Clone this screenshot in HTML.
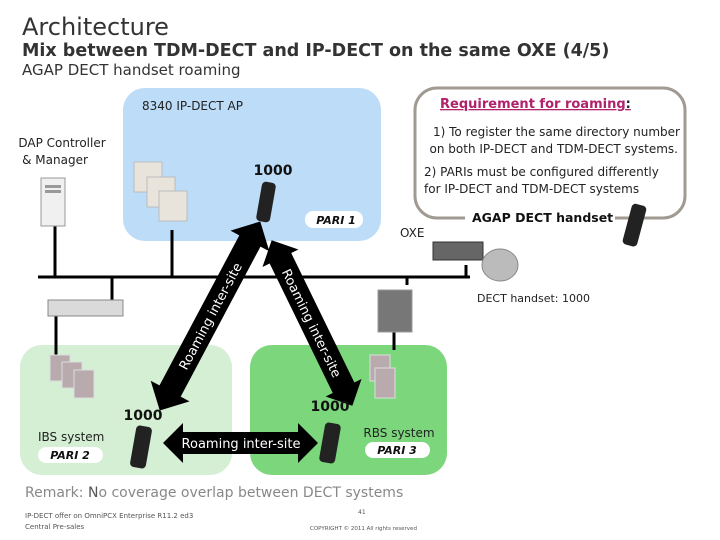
<!DOCTYPE html>
<html><head><meta charset="utf-8"><style>
html,body{margin:0;padding:0;background:#fff;width:720px;height:540px;overflow:hidden}
svg{display:block;font-family:"DejaVu Sans","Liberation Sans",sans-serif}
</style></head><body>
<svg width="720" height="540" viewBox="0 0 720 540">
<text x="22" y="35" font-size="24" fill="#333">Architecture</text>
<text x="22" y="56" font-size="17.5" font-weight="bold" fill="#333">Mix between TDM-DECT and IP-DECT on the same OXE (4/5)</text>
<text x="22" y="75" font-size="15" fill="#333">AGAP DECT handset roaming</text>

<rect x="123" y="88" width="258" height="153" rx="22" fill="#bcdcf8"/>
<rect x="20" y="345" width="212" height="130" rx="22" fill="#d4efd4"/>
<rect x="250" y="345" width="197" height="130" rx="22" fill="#7cd67c"/>
<rect x="415" y="88" width="270" height="130" rx="22" fill="#fff" stroke="#a09a92" stroke-width="3"/>
<rect x="465" y="208" width="150" height="14" fill="#fff"/>

<text x="142" y="110" font-size="12" fill="#222">8340 IP-DECT AP</text>
<text x="440" y="108" font-size="13" font-weight="bold" fill="#b0226b" text-decoration="underline">Requirement for roaming<tspan fill="#222">:</tspan></text>
<text x="680" y="136" font-size="12" fill="#222" text-anchor="end">1) To register the same directory number</text>
<text x="678" y="153" font-size="12" fill="#222" text-anchor="end">on both IP-DECT and TDM-DECT systems.</text>
<text x="424" y="176" font-size="12" fill="#222">2) PARIs must be configured differently</text>
<text x="424" y="193" font-size="12" fill="#222">for IP-DECT and TDM-DECT systems</text>
<text x="472" y="222" font-size="12.5" font-weight="bold" fill="#111">AGAP DECT handset</text>
<text x="62" y="147" font-size="12" fill="#222" text-anchor="middle">DAP Controller</text>
<text x="55" y="164" font-size="12" fill="#222" text-anchor="middle">&amp; Manager</text>
<text x="273" y="175" font-size="14" font-weight="bold" fill="#111" text-anchor="middle">1000</text>
<rect x="305" y="211" width="58" height="17" rx="8" fill="#fff"/>
<text x="336" y="224" font-size="11" font-weight="bold" font-style="italic" fill="#111" text-anchor="middle">PARI 1</text>
<text x="400" y="237" font-size="12" fill="#222">OXE</text>
<text x="477" y="302" font-size="11" fill="#222">DECT handset: 1000</text>

<g stroke="#000" stroke-width="3" fill="none">
<line x1="38" y1="277" x2="470" y2="277"/>
<line x1="55" y1="225" x2="55" y2="277"/>
<line x1="172" y1="230" x2="172" y2="277"/>
<line x1="112" y1="277" x2="112" y2="300"/>
<line x1="56" y1="315" x2="56" y2="360"/>
<line x1="407" y1="277" x2="407" y2="285"/>
<line x1="466" y1="265" x2="466" y2="277"/>
<line x1="394" y1="330" x2="394" y2="350"/>
</g>
<rect x="41" y="178" width="24" height="48" fill="#f0f0f0" stroke="#999"/>
<rect x="45" y="185" width="16" height="3" fill="#999"/><rect x="45" y="190" width="16" height="3" fill="#999"/>
<g fill="#e8e4dc" stroke="#bbb">
<rect x="134" y="162" width="28" height="30"/><rect x="147" y="177" width="28" height="30"/><rect x="159" y="191" width="28" height="30"/>
</g>
<rect x="48" y="300" width="75" height="16" fill="#dadada" stroke="#888"/>
<rect x="433" y="242" width="50" height="18" fill="#666" stroke="#333"/>
<ellipse cx="500" cy="265" rx="18" ry="16" fill="#bbb" stroke="#888"/>
<rect x="378" y="290" width="34" height="42" fill="#777" stroke="#999"/>
<g fill="#b9aaae" stroke="#ddd">
<rect x="50" y="355" width="20" height="26"/><rect x="62" y="362" width="20" height="26"/><rect x="74" y="370" width="20" height="28"/>
<rect x="370" y="355" width="20" height="26"/><rect x="375" y="368" width="20" height="30"/>
</g>
<g fill="#222">
<rect x="259" y="182" width="14" height="40" rx="4" transform="rotate(10 266 202)"/>
<rect x="627" y="204" width="15" height="42" rx="4" transform="rotate(15 634 225)"/>
<rect x="133" y="426" width="16" height="42" rx="4" transform="rotate(10 141 447)"/>
<rect x="322" y="423" width="16" height="40" rx="4" transform="rotate(10 330 443)"/>
</g>

<g transform="translate(210 316) rotate(-62)">
<polygon points="-107,0 -85,-22 -85,-12 85,-12 85,-22 107,0 85,22 85,12 -85,12 -85,22" fill="#000"/>
<text x="0" y="5" font-size="13" fill="#fff" text-anchor="middle">Roaming inter-site</text>
</g>
<g transform="translate(312 323) rotate(64)">
<polygon points="-92,0 -72,-20 -72,-12 72,-12 72,-20 92,0 72,20 72,12 -72,12 -72,20" fill="#000"/>
<text x="0" y="5" font-size="13" fill="#fff" text-anchor="middle">Roaming inter-site</text>
</g>
<polygon points="163,443 183,423 183,432 298,432 298,423 318,443 298,463 298,454 183,454 183,463" fill="#000"/>
<text x="241" y="448" font-size="13" fill="#fff" text-anchor="middle">Roaming inter-site</text>

<text x="143" y="420" font-size="14" font-weight="bold" fill="#111" text-anchor="middle">1000</text>
<text x="330" y="411" font-size="14" font-weight="bold" fill="#111" text-anchor="middle">1000</text>
<text x="38" y="441" font-size="12" fill="#222">IBS system</text>
<rect x="38" y="447" width="65" height="16" rx="8" fill="#fff"/>
<text x="70" y="459" font-size="11" font-weight="bold" font-style="italic" fill="#111" text-anchor="middle">PARI 2</text>
<text x="399" y="437" font-size="12" fill="#222" text-anchor="middle">RBS system</text>
<rect x="365" y="442" width="65" height="16" rx="8" fill="#fff"/>
<text x="397" y="454" font-size="11" font-weight="bold" font-style="italic" fill="#111" text-anchor="middle">PARI 3</text>

<text x="25" y="497" font-size="14" fill="#888">Remark: <tspan fill="#555">N</tspan>o coverage overlap between DECT systems</text>
<text x="25" y="518" font-size="7" fill="#555">IP-DECT offer on OmniPCX Enterprise R11.2 ed3</text>
<text x="25" y="529" font-size="7" fill="#555">Central Pre-sales</text>
<text x="358" y="514" font-size="6" fill="#555">41</text>
<text x="310" y="530" font-size="5.5" fill="#555">COPYRIGHT © 2011 All rights reserved</text>
</svg>
</body></html>
